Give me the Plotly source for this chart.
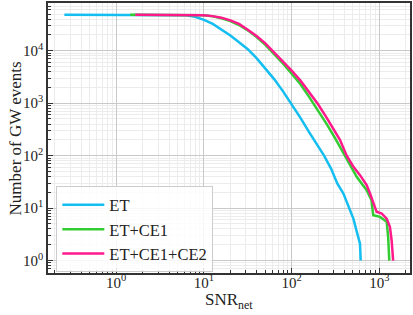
import plotly.graph_objects as go

# ---- data (SNR threshold, number of events above it) ----
et_snr = [0.256, 3.98, 5.01, 6.31, 7.94, 10.0, 12.6, 15.8, 20.0, 25.1, 31.6, 39.8, 50.1, 63.1,
          79.4, 100, 126, 158, 200, 234, 282, 331, 389, 443, 505, 551, 601, 612]
et_n = [48500, 48500, 48500, 47300, 44200, 38900, 32400, 25700, 19500, 14500, 10700, 7240,
        4680, 2880, 1700, 955, 525, 282, 148, 100, 56, 29.5, 19, 10.5, 6.3, 3.6, 2.1, 1.0]

ce1_snr = [1.44, 6.31, 10.0, 12.6, 15.8, 20.0, 25.1, 31.6, 39.8, 50.1, 63.1, 79.4, 100, 126,
           158, 200, 251, 316, 398, 457, 551, 716, 813, 851, 1016, 1211, 1259, 1297]
ce1_n = [48500, 48500, 47300, 45200, 41700, 36700, 30900, 24500, 18200, 12900, 8710, 5750,
         3630, 2290, 1320, 724, 398, 209, 105, 66, 39.4, 22, 14.1, 7.3, 6.8, 5.5, 2.8, 1.0]

ce2_snr = [1.65, 6.31, 10.0, 12.6, 15.8, 20.0, 25.1, 31.6, 39.8, 50.1, 63.1, 79.4, 100, 126,
           158, 200, 251, 316, 355, 424, 501, 601, 716, 782, 851, 929, 1062, 1211, 1318,
           1380, 1435]
ce2_n = [48500, 48500, 47300, 45700, 42700, 38000, 32400, 25100, 19100, 13800, 9330, 6170,
         4170, 2690, 1660, 955, 525, 282, 200, 100, 63, 42.5, 27.4, 19, 12.2, 8.5, 7.9, 6.3,
         4.4, 2.4, 1.0]

x_ticks = [1, 10, 100, 1000]
x_labels = ["10<sup>0</sup>", "10<sup>1</sup>", "10<sup>2</sup>", "10<sup>3</sup>"]
y_ticks = [1, 10, 100, 1000, 10000]
y_labels = ["10<sup>0</sup>", "10<sup>1</sup>", "10<sup>2</sup>", "10<sup>3</sup>", "10<sup>4</sup>"]

series = [
    ("ET", et_snr, et_n, "#14BEF0"),
    ("ET+CE1", ce1_snr, ce1_n, "#33CC33"),
    ("ET+CE1+CE2", ce2_snr, ce2_n, "#FF1A8C"),
]

fig = go.Figure()
for name, xs, ys, col in series:
    fig.add_trace(go.Scatter(x=xs, y=ys, mode="lines", name=name,
                             line=dict(color=col, width=2.5)))

FONT = "Liberation Serif"
TXT = "#222222"
fig.update_layout(
    width=413, height=315,
    margin=dict(l=48, r=3, t=3, b=42, autoexpand=False),
    paper_bgcolor="white", plot_bgcolor="white",
    font=dict(family=FONT, size=15, color=TXT),
    showlegend=True,
    legend=dict(x=0.023, y=0.002, xanchor="left", yanchor="bottom",
                bgcolor="rgba(255,255,255,0.85)", bordercolor="#cccccc", borderwidth=1,
                itemwidth=42,
                font=dict(family=FONT, size=16.5, color=TXT)),
    annotations=[
        dict(text="SNR<sub>net</sub>", xref="paper", yref="paper", x=0.5, y=-0.105,
             xanchor="center", yanchor="middle", showarrow=False,
             font=dict(family=FONT, size=17, color=TXT)),
        dict(text="Number of GW events", xref="paper", yref="paper", x=-0.09, y=0.5,
             xanchor="center", yanchor="middle", textangle=-90, showarrow=False,
             font=dict(family=FONT, size=17, color=TXT)),
    ],
)

axis_common = dict(
    type="log", showline=True, linecolor="#333333", linewidth=1.5, mirror=True,
    ticks="inside", ticklen=5, tickcolor="#333333", tickwidth=1, automargin=False,
    showgrid=True, gridcolor="#c9c9c9", gridwidth=1, zeroline=False,
    tickfont=dict(family=FONT, size=15, color=TXT),
    minor=dict(ticks="inside", ticklen=3, tickcolor="#333333", showgrid=True,
               gridcolor="#ececec", gridwidth=1, dtick="D1"),
)

fig.update_xaxes(range=[-0.778, 3.349], tickvals=x_ticks, ticktext=x_labels,
                 ticklabelstandoff=-5, **axis_common)
fig.update_yaxes(range=[-0.237, 4.91], tickvals=y_ticks, ticktext=y_labels,
                 **axis_common)

fig.write_html("out.html", config={"displayModeBar": False},
               post_script="document.body.style.margin='0';")
